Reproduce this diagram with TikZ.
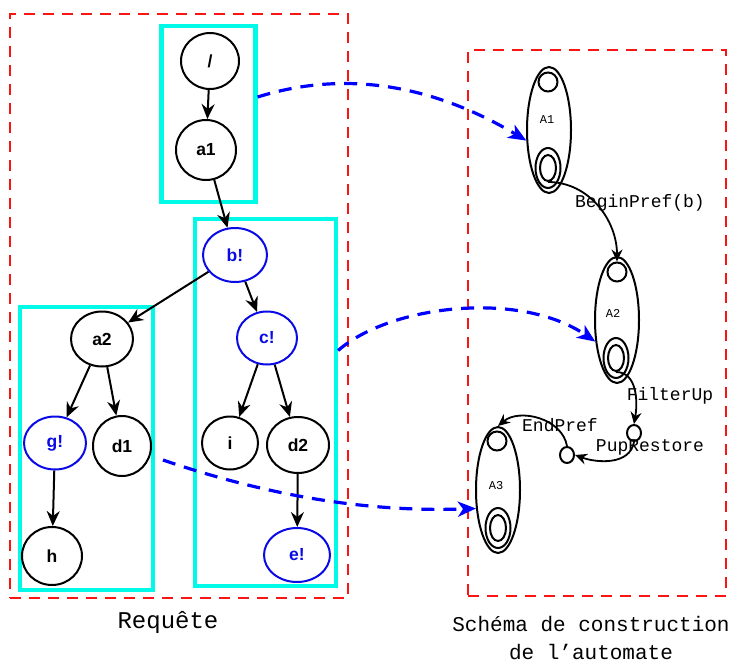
\documentclass[tikz,border=0pt]{standalone}
\usepackage{fontspec}
\setmainfont{Liberation Sans}
\newfontfamily\courfont{Liberation Mono}
\usetikzlibrary{shapes.geometric,arrows.meta}
\definecolor{boxcyan}{RGB}{0,250,232}
\definecolor{boxred}{RGB}{250,20,20}
\definecolor{linkblue}{RGB}{0,0,255}
\definecolor{nodeblue}{RGB}{10,10,230}
\begin{document}
\begin{tikzpicture}[x=1pt,y=-1pt,
  tnode/.style={ellipse,line width=2pt,inner sep=0pt,font=\fontsize{17.5}{20}\selectfont\bfseries},
  blk/.style={tnode,draw=black,text=black},
  blu/.style={tnode,draw=nodeblue,text=nodeblue},
  cbox/.style={rectangle,draw=boxcyan,line width=4.2pt,inner sep=0pt},
  rbox/.style={rectangle,draw=boxred,line width=2pt,dash pattern=on 11pt off 8pt,inner sep=0pt},
  tedge/.style={line width=2pt,-{Stealth[length=15pt,width=13pt,inset=5pt]}},
  aut/.style={ellipse,draw,line width=2pt,minimum width=44pt,minimum height=126pt,inner sep=0pt},
  ist/.style={circle,draw,line width=2pt,minimum size=19pt,inner sep=0pt},
  fout/.style={ellipse,draw,line width=2pt,minimum width=25pt,minimum height=40pt,inner sep=0pt},
  fin/.style={ellipse,draw,line width=2pt,minimum width=16pt,minimum height=26pt,inner sep=0pt},
  mst/.style={ellipse,draw,line width=2pt,minimum width=14pt,minimum height=16pt,inner sep=0pt},
  aedge/.style={line width=1.8pt,-{Stealth[length=12pt,width=11pt,inset=4pt]}},
  lab/.style={font=\courfont\fontsize{18}{20}\selectfont,inner sep=0pt,anchor=base},
  autlab/.style={font=\courfont\fontsize{12}{14}\selectfont,inner sep=0pt,anchor=base},
  blink/.style={draw=linkblue,line width=3.2pt,dash pattern=on 13pt off 9pt,-{Stealth[length=18pt,width=15pt,inset=5pt]}}
]
\useasboundingbox (0,0) rectangle (734,664);

% frames
\node[rbox,minimum width=338pt,minimum height=584pt] (left) at (179,306) {};
\node[rbox,minimum width=258pt,minimum height=546pt] (right) at (597,323) {};
\node[cbox,minimum width=94pt,minimum height=176pt] (box1) at (208.5,114) {};
\node[cbox,minimum width=141pt,minimum height=367pt] (box2) at (265.5,402.5) {};
\node[cbox,minimum width=133pt,minimum height=283pt] (box3) at (86.5,448.5) {};

% tree
\node[blk,minimum width=58pt,minimum height=56pt] (root) at (210,61) {/};
\node[blk,minimum width=60pt,minimum height=60pt] (a1) at (206,150) {a1};
\node[blu,minimum width=64pt,minimum height=54pt] (b) at (235,255) {b!};
\node[blk,minimum width=62pt,minimum height=55pt] (a2) at (102,339) {a2};
\node[blu,minimum width=60pt,minimum height=53pt] (c) at (267,338) {c!};
\node[blu,minimum width=62pt,minimum height=53pt] (g) at (55,443) {g!};
\node[blk,minimum width=58pt,minimum height=60pt] (d1) at (122,446) {d1};
\node[blk,minimum width=56pt,minimum height=53pt] (i) at (230,443) {i};
\node[blk,minimum width=62pt,minimum height=56pt] (d2) at (298,445) {d2};
\node[blk,minimum width=60pt,minimum height=58pt] (h) at (52,556) {h};
\node[blu,minimum width=66pt,minimum height=54pt] (e) at (297,555) {e!};

\draw[tedge] (root) -- (a1);
\draw[tedge] (a1) -- (b);
\draw[tedge] (b) -- (a2);
\draw[tedge] (b) -- (c);
\draw[tedge] (a2) -- (g);
\draw[tedge] (a2) -- (d1);
\draw[tedge] (c) -- (i);
\draw[tedge] (c) -- (d2);
\draw[tedge] (g) -- (h);
\draw[tedge] (d2) -- (e);

% automata
\node[aut] (A1) at (549,130) {};
\node[ist] (A1i) at (548,82) {};
\node[fout] (A1fo) at (548,168) {};
\node[fin] (A1fi) at (548,168) {};
\node[autlab] (A1t) at (547,123) {A1};

\node[aut] (A2) at (617,320) {};
\node[ist] (A2i) at (617,272) {};
\node[fout] (A2fo) at (616,358) {};
\node[fin] (A2fi) at (616,358) {};
\node[autlab] (A2t) at (613,317) {A2};

\node[aut] (A3) at (498,490) {};
\node[ist] (A3i) at (497,441) {};
\node[fout] (A3fo) at (498,528) {};
\node[fin] (A3fi) at (498,528) {};
\node[autlab] (A3t) at (496,489) {A3};

\node[mst] (s1) at (634,433) {};
\node[mst] (s2) at (567,455) {};

\draw[aedge] (A1fi.south) to[out=0,in=90] (A2i.north);
\draw[aedge] (A2fi.south) to[out=0,in=80] (s1.north);
\draw[aedge] (s1.south) to[out=-100,in=-20] (s2.east);
\draw[aedge] (s2.north) to[out=100,in=40] (A3.north);

\node[lab] (l1) at (640,207) {BeginPref(b)};
\node[lab] (l2) at (670,400) {FilterUp};
\node[lab] (l3) at (650,451) {PupRestore};
\node[lab] (l4) at (560,431) {EndPref};

% links
\coordinate (l3s) at (163,460);
\draw[blink] ([yshift=17pt]box1.east) .. controls (360,65) and (450,95) .. (A1.205);
\draw[blink] ([yshift=52pt]box2.east) .. controls (390,305) and (520,290) .. (A2.225);
\draw[blink] (l3s) .. controls (280,500) and (380,512) .. (A3.220);

% captions
\node[font=\courfont\fontsize{24}{28}\selectfont,inner sep=0pt,anchor=base] (req) at (168,628) {Requête};
\node[font=\courfont\fontsize{21}{28}\selectfont,inner sep=0pt,align=center] (sch) at (591,638) {Schéma de construction\\de l’automate};
\end{tikzpicture}
\end{document}
